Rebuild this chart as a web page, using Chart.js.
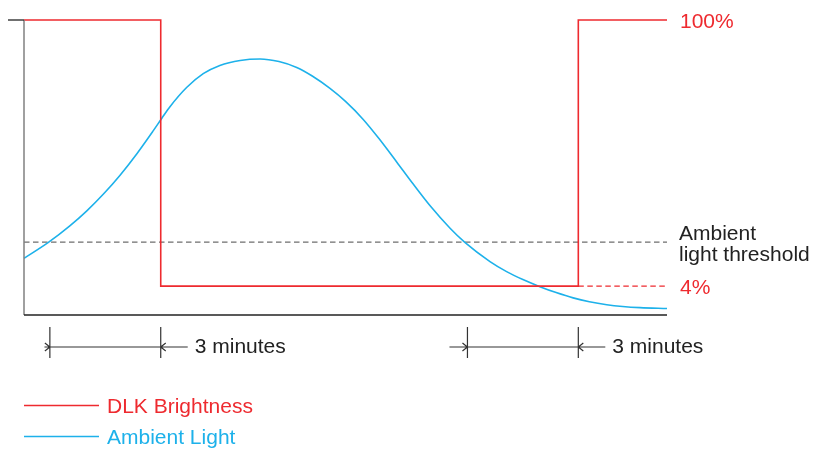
<!DOCTYPE html>
<html lang="en">
<head>
    <meta charset="UTF-8">
    <title>DLK brightness vs ambient light</title>
    <script src="https://cdn.jsdelivr.net/npm/chart.js@4.4.0/dist/chart.umd.min.js"></script>
    <style>
        body { margin: 0; background: #fff; }
    </style>
</head>
<body>
    <canvas id="myChart" width="814" height="452"></canvas>

    <script>
        // time in minutes, level in % of the plot height
        const brightTime = [0, 3.7, 3.7, 15, 15, 17.4];
        const brightness = [100, 100, 9.8, 9.8, 100, 100];

        const lightTime = [0, 0.66, 1.24, 1.7, 2.15, 2.6, 3.05, 3.5, 3.73, 3.95, 4.4, 4.85, 5.3, 5.85, 6.39, 6.9, 7.38, 7.8, 8.28, 8.7, 9.18, 9.6, 10.09, 10.5, 10.99, 11.53, 11.93, 12.61, 13.06, 13.5, 13.96, 14.4, 14.86, 15.3, 15.77, 16.2, 16.67, 17.4];
        const ambient   = [19.2, 24.6, 30.2, 35.3, 41.0, 47.4, 54.6, 62.5, 66.7, 70.6, 77.1, 81.8, 84.6, 86.3, 86.8, 85.9, 83.9, 81.0, 76.8, 72.4, 66.3, 59.9, 51.8, 44.9, 37.0, 29.4, 24.6, 18.1, 14.7, 12.0, 9.6, 7.6, 5.8, 4.5, 3.5, 2.9, 2.5, 2.2];

        const lowLevelTime = [15, 17.4];
        const lowLevel = 9.8;
        const threshold = 24.7;

        const levelLabels = ['100%', '4%'];
        const thresholdLabel = ['Ambient', 'light threshold'];
        const spans = [[0.7, 3.7], [12, 15]];
        const spanLabel = '3 minutes';

        const RED = '#ee2a2f';
        const BLUE = '#1db1ea';
        const FONT = '21px "Liberation Sans", Arial, sans-serif';

        const pts = (xs, ys) => xs.map((x, i) => ({x: x, y: Array.isArray(ys) ? ys[i] : ys}));

        const extras = {
            id: 'extras',
            afterDraw(chart) {
                const ctx = chart.ctx;
                const a = chart.chartArea;
                const x = chart.scales.x, y = chart.scales.y;
                ctx.save();

                // axes
                ctx.lineWidth = 1.5;
                ctx.strokeStyle = '#808080';
                ctx.beginPath(); ctx.moveTo(a.left, a.top); ctx.lineTo(a.left, a.bottom); ctx.stroke();
                ctx.strokeStyle = '#222';
                ctx.lineWidth = 1.3;
                ctx.beginPath(); ctx.moveTo(8, a.top); ctx.lineTo(a.left, a.top); ctx.stroke();
                ctx.beginPath(); ctx.moveTo(a.left, a.bottom); ctx.lineTo(a.right, a.bottom); ctx.stroke();

                // right-side labels
                ctx.font = FONT;
                ctx.textBaseline = 'alphabetic';
                ctx.fillStyle = RED;
                ctx.fillText(levelLabels[0], a.right + 13, y.getPixelForValue(100) + 8);
                ctx.fillText(levelLabels[1], a.right + 13, y.getPixelForValue(lowLevel) + 8);
                ctx.fillStyle = '#222';
                const ty = y.getPixelForValue(threshold);
                ctx.fillText(thresholdLabel[0], a.right + 12, ty - 2);
                ctx.fillText(thresholdLabel[1], a.right + 12, ty + 19);

                // dimension marks
                ctx.strokeStyle = '#333';
                ctx.lineWidth = 1.2;
                const dy = a.bottom + 32;
                spans.forEach(s => {
                    const x0 = x.getPixelForValue(s[0]);
                    const x1 = x.getPixelForValue(s[1]);
                    ctx.beginPath();
                    ctx.moveTo(x0, a.bottom + 12); ctx.lineTo(x0, a.bottom + 43);
                    ctx.moveTo(x1, a.bottom + 12); ctx.lineTo(x1, a.bottom + 43);
                    ctx.moveTo(x0 - 18 * (s[0] > 5 ? 1 : 0.3), dy); ctx.lineTo(x1 + 27, dy);
                    // arrow heads
                    ctx.moveTo(x0 - 5, dy - 4); ctx.lineTo(x0, dy); ctx.lineTo(x0 - 5, dy + 4);
                    ctx.moveTo(x1 + 5, dy - 4); ctx.lineTo(x1, dy); ctx.lineTo(x1 + 5, dy + 4);
                    ctx.stroke();
                    ctx.fillStyle = '#222';
                    ctx.fillText(spanLabel, x1 + 34, dy + 6);
                });

                // legend
                const items = [chart.data.datasets[0], chart.data.datasets[1]];
                items.forEach((ds, i) => {
                    const ly = 405.5 + i * 31;
                    ctx.strokeStyle = ds.borderColor;
                    ctx.lineWidth = 1.5;
                    ctx.beginPath(); ctx.moveTo(24, ly); ctx.lineTo(99, ly); ctx.stroke();
                    ctx.fillStyle = ds.borderColor;
                    ctx.fillText(ds.label, 107, ly + 7.5);
                });
                ctx.restore();
            }
        };

        const ctx = document.getElementById('myChart').getContext('2d');
        const myChart = new Chart(ctx, {
            type: 'scatter',
            data: {
                datasets: [{
                    label: 'DLK Brightness',
                    data: pts(brightTime, brightness),
                    showLine: true,
                    borderColor: RED,
                    borderWidth: 1.6,
                    pointRadius: 0,
                    tension: 0,
                    clip: false
                }, {
                    label: 'Ambient Light',
                    data: pts(lightTime, ambient),
                    showLine: true,
                    borderColor: BLUE,
                    borderWidth: 1.6,
                    pointRadius: 0,
                    cubicInterpolationMode: 'monotone',
                    clip: false
                }, {
                    label: 'threshold',
                    data: pts([0, 17.4], threshold),
                    showLine: true,
                    borderColor: '#6e6e6e',
                    borderWidth: 1.3,
                    borderDash: [5.5, 3.5],
                    pointRadius: 0,
                    clip: false
                }, {
                    label: 'low level',
                    data: pts(lowLevelTime, lowLevel),
                    showLine: true,
                    borderColor: RED,
                    borderWidth: 1.4,
                    borderDash: [5.5, 3.5],
                    pointRadius: 0,
                    clip: false
                }]
            },
            options: {
                responsive: false,
                animation: false,
                devicePixelRatio: 1,
                layout: { padding: { left: 24, top: 20, right: 147, bottom: 137 } },
                plugins: { legend: { display: false }, tooltip: { enabled: false } },
                scales: {
                    x: { type: 'linear', min: 0, max: 17.4, display: false },
                    y: { min: 0, max: 100, display: false }
                }
            },
            plugins: [extras]
        });
    </script>
</body>
</html>
